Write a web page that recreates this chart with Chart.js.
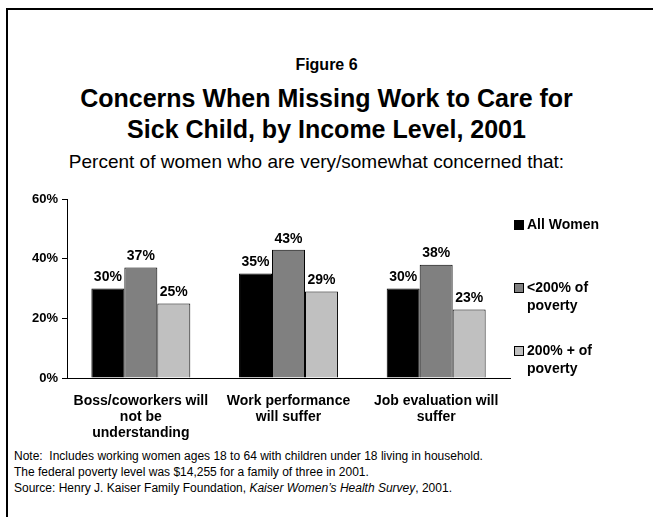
<!DOCTYPE html>
<html>
<head>
<meta charset="utf-8">
<script src="https://cdn.jsdelivr.net/npm/chart.js@4/dist/chart.umd.min.js"></script>
<style>
  body { margin: 0; background: #fff; font-family: Arial, "Liberation Sans", sans-serif; }
  #page { position: relative; width: 653px; height: 517px; overflow: hidden; }
  #frame { position: absolute; left: 6px; top: 8px; right: -10px; bottom: -10px;
           border-top: 2px solid #000; border-left: 2px solid #000; }
  .t { position: absolute; left: 0; width: 653px; text-align: center; color: #000; white-space: nowrap; }
  #fig { top: 56px; font-size: 16px; font-weight: bold; }
  #title { top: 83px; font-size: 25px; font-weight: bold; line-height: 31px; }
  #sub { top: 151px; font-size: 19px; left: -10px; }
  #notes { position: absolute; left: 14px; top: 448px; font-size: 12px; line-height: 16px; color: #000; }
  #wrap { position: absolute; left: 0; top: 185px; width: 653px; height: 262px; }
</style>
</head>
<body>
<div id="page">
  <div id="frame"></div>
  <div class="t" id="fig">Figure 6</div>
  <div class="t" id="title">Concerns When Missing Work to Care for<br>Sick Child, by Income Level, 2001</div>
  <div class="t" id="sub">Percent of women who are very/somewhat concerned that:</div>
  <div id="wrap"><canvas id="chart"></canvas></div>
  <div id="notes">
    Note:&nbsp; Includes working women ages 18 to 64 with children under 18 living in household.<br>
    The federal poverty level was $14,255 for a family of three in 2001.<br>
    Source: Henry J. Kaiser Family Foundation, <i>Kaiser Women’s Health Survey</i>, 2001.
  </div>
</div>
<script>
var categories = [
  ['Boss/coworkers will', 'not be', 'understanding'],
  ['Work performance', 'will suffer'],
  ['Job evaluation will', 'suffer']
];
var seriesNames = ['All Women', ['<200% of', 'poverty'], ['200% + of', 'poverty']];
var allWomen = [30, 35, 30];
var below200 = [37, 43, 38];
var above200 = [25, 29, 23];
var yTicks = [0, 20, 40, 60];
var barColors = ['#000000', '#808080', '#c0c0c0'];

var labelFont = 'bold 14px Arial, "Liberation Sans", sans-serif';

// value labels on top of each bar
var valueLabels = {
  id: 'valueLabels',
  afterDatasetsDraw: function(chart) {
    var ctx = chart.ctx;
    ctx.save();
    ctx.font = labelFont;
    ctx.fillStyle = '#000';
    ctx.textAlign = 'center';
    ctx.textBaseline = 'bottom';
    chart.data.datasets.forEach(function(ds, i) {
      chart.getDatasetMeta(i).data.forEach(function(bar, j) {
        ctx.fillText(ds.data[j] + '%', bar.x, bar.y - 4);
      });
    });
    ctx.restore();
  }
};

// legend on the right, with wrapped labels
var sideLegend = {
  id: 'sideLegend',
  afterDraw: function(chart) {
    var ctx = chart.ctx;
    var rows = [40, 103, 166];
    ctx.save();
    ctx.font = labelFont;
    ctx.textBaseline = 'middle';
    ctx.textAlign = 'left';
    chart.data.datasets.forEach(function(ds, i) {
      var y = rows[i];
      ctx.fillStyle = ds.backgroundColor;
      ctx.fillRect(514.5, y - 4.5, 9, 9);
      ctx.strokeStyle = '#000';
      ctx.lineWidth = 1;
      ctx.strokeRect(514.5, y - 4.5, 9, 9);
      ctx.fillStyle = '#000';
      [].concat(seriesNames[i]).forEach(function(line, k) {
        ctx.fillText(line, 527, y + k * 18);
      });
    });
    ctx.restore();
  }
};

var datasets = [allWomen, below200, above200].map(function(values, i) {
  return {
    label: [].concat(seriesNames[i]).join(' '),
    data: values,
    backgroundColor: barColors[i],
    borderColor: '#000',
    borderWidth: 1,
    barPercentage: 1,
    categoryPercentage: 0.67
  };
});

new Chart(document.getElementById('chart'), {
  type: 'bar',
  data: { labels: categories, datasets: datasets },
  plugins: [valueLabels, sideLegend],
  options: {
    responsive: true,
    maintainAspectRatio: false,
    animation: false,
    devicePixelRatio: 1,
    layout: { padding: { left: 0, right: 143, top: 14, bottom: 0 } },
    plugins: { legend: { display: false }, tooltip: { enabled: false } },
    scales: {
      x: {
        grid: { display: false },
        border: { display: true, color: '#000', width: 1 },
        ticks: {
          color: '#000',
          font: { family: 'Arial', weight: 'bold', size: 14, lineHeight: 1.15 },
          padding: 7,
          maxRotation: 0,
          autoSkip: false
        },
        afterFit: function(s) { s.height = 69; }
      },
      y: {
        min: 0,
        max: 60,
        afterBuildTicks: function(s) { s.ticks = yTicks.map(function(v) { return { value: v }; }); },
        grid: { drawOnChartArea: false, drawTicks: true, tickLength: 5, color: '#000' },
        border: { display: true, color: '#000', width: 1 },
        ticks: {
          color: '#000',
          padding: 4,
          font: { family: 'Arial', weight: 'bold', size: 13 },
          callback: function(v) { return v + '%'; }
        },
        afterFit: function(s) { s.width = 67; }
      }
    }
  }
});
</script>
</body>
</html>
